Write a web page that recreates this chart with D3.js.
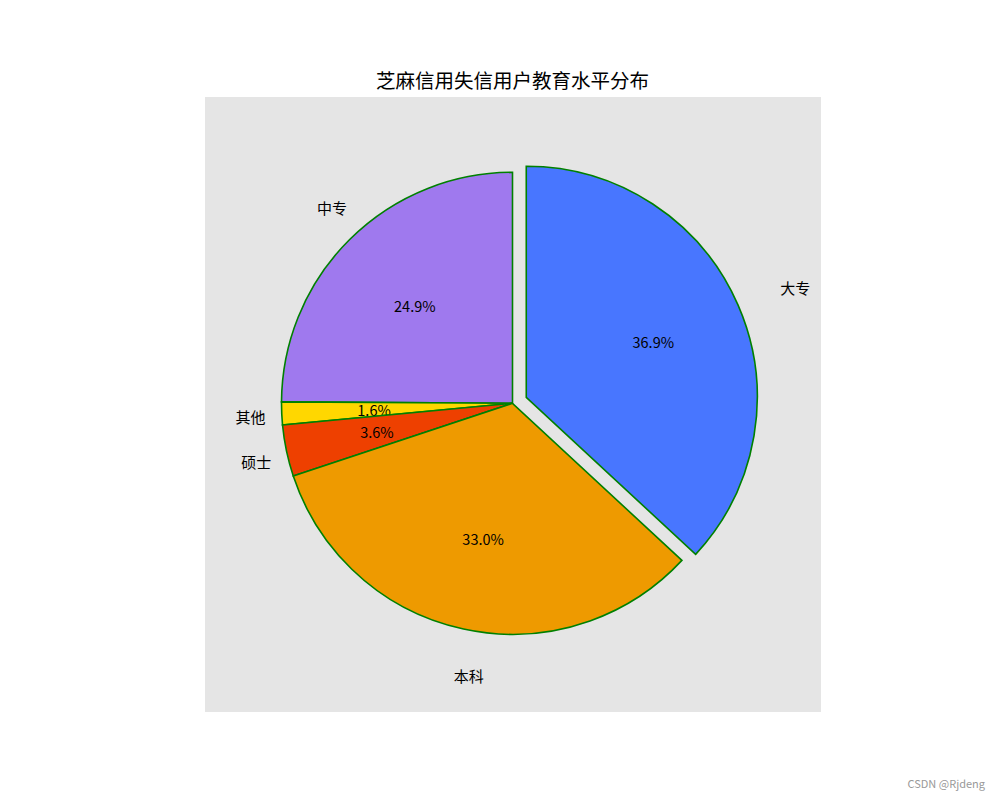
<!DOCTYPE html>
<html>
<head>
<meta charset="utf-8">
<script src="https://cdn.jsdelivr.net/npm/d3@7"></script>
<style>
  body { margin: 0; background: #fff; }
  text { font-family: "Noto Sans CJK SC", "DejaVu Sans", sans-serif; fill: #000; }
</style>
</head>
<body>
<svg width="1000" height="800"></svg>
<script>
const labels = ["中专", "其他", "硕士", "本科", "大专"];
const values = [24.9, 1.6, 3.6, 33.0, 36.9];
const colors = ["#9f79ee", "#ffd700", "#ee4000", "#ee9a00", "#4876ff"];
const explode = [0, 0, 0, 0, 0.065];

const svg = d3.select("svg");
const cx = 512.5, cy = 403.3, r = 231;

// axes background
svg.append("rect")
  .attr("x", 205)
  .attr("y", 97)
  .attr("width", 616)
  .attr("height", 615)
  .attr("fill", "#e5e5e5");

svg.append("text")
  .attr("x", cx)
  .attr("y", 88)
  .attr("text-anchor", "middle")
  .style("font-size", "19.5px")
  .text("芝麻信用失信用户教育水平分布");

// counterclockwise from the top, like matplotlib startangle=90
const pie = d3.pie()
  .sort(null)
  .startAngle(0)
  .endAngle(-2 * Math.PI)
  .value(d => d.value);

const data = labels.map((l, i) => ({ label: l, value: values[i], color: colors[i], explode: explode[i] }));
const arcs = pie(data);

const arc = d3.arc().innerRadius(0).outerRadius(r);

function dir(a) {
  const m = (a.startAngle + a.endAngle) / 2;
  return [Math.sin(m), -Math.cos(m)];
}

const g = svg.append("g").attr("transform", `translate(${cx},${cy})`);

const slice = g.selectAll("g.slice")
  .data(arcs)
  .enter()
  .append("g")
  .attr("class", "slice")
  .attr("transform", d => {
    const [dx, dy] = dir(d);
    const off = d.data.explode * r;
    return `translate(${dx * off},${dy * off})`;
  });

slice.append("path")
  .attr("d", arc)
  .attr("fill", d => d.data.color)
  .attr("stroke", "#008000")
  .attr("stroke-width", 1.6)
  .attr("stroke-linejoin", "miter");

slice.append("text")
  .attr("x", d => dir(d)[0] * r * 1.2)
  .attr("y", d => dir(d)[1] * r * 1.2 + 1)
  .attr("text-anchor", "start")
  .attr("dominant-baseline", "central")
  .style("font-size", "15px")
  .text(d => d.data.label);

slice.append("text")
  .attr("x", d => dir(d)[0] * r * 0.6)
  .attr("y", d => dir(d)[1] * r * 0.6)
  .attr("text-anchor", "middle")
  .attr("dominant-baseline", "central")
  .style("font-size", "14.5px")
  .text(d => d.data.value.toFixed(1) + "%");

svg.append("text")
  .attr("x", 985)
  .attr("y", 788)
  .attr("text-anchor", "end")
  .style("font-size", "11px")
  .style("fill", "#999")
  .text("CSDN @Rjdeng");
</script>
</body>
</html>
